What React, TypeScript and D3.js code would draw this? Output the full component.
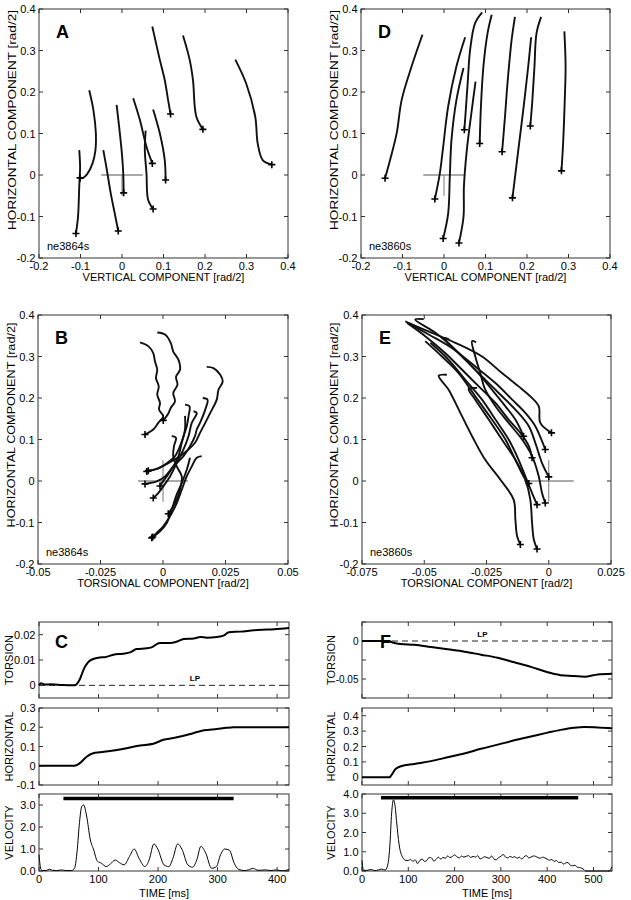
import React, { useEffect, useRef } from 'react';
import * as d3 from 'd3';

type Pt = [number, number];

const FONT = '"Liberation Sans", Arial, Helvetica, sans-serif';

// ---- tick values
const compTicks = [-0.2, -0.1, 0, 0.1, 0.2, 0.3, 0.4];
const torsTicksB = [-0.05, -0.025, 0, 0.025, 0.05];
const torsTicksE = [-0.075, -0.05, -0.025, 0, 0.025];
const timeTicksC = [0, 100, 200, 300, 400];
const timeTicksF = [0, 100, 200, 300, 400, 500];
const torsionTicksC = [0, 0.01, 0.02];
const torsionTicksF = [-0.075, -0.05, -0.025, 0, 0.025];
const torsionLabelsF = [-0.05, 0];
const horizTicksC = [-0.1, 0, 0.1, 0.2, 0.3];
const horizTicksF = [0, 0.1, 0.2, 0.3, 0.4];
const velTicksC = [0, 1, 2, 3];
const velTicksF = [0, 1, 2, 3, 4];

// ---- A: vertical vs horizontal, ne3864s (last point = "+")
const trajA: Pt[][] = [
  [[-0.103, 0.06], [-0.101, 0.02], [-0.103, -0.028], [-0.106, -0.101], [-0.111, -0.141]],
  [[-0.079, 0.204], [-0.069, 0.157], [-0.063, 0.101], [-0.064, 0.06], [-0.071, 0.028], [-0.084, 0.002], [-0.094, -0.007], [-0.101, -0.007]],
  [[-0.045, 0.06], [-0.037, 0.015], [-0.027, -0.045], [-0.018, -0.09], [-0.009, -0.135]],
  [[-0.013, 0.169], [-0.007, 0.117], [-0.001, 0.06], [0.003, 0.004], [0.004, -0.043]],
  [[0.027, 0.185], [0.043, 0.133], [0.059, 0.068], [0.073, 0.028]],
  [[0.057, 0.107], [0.055, 0.06], [0.059, 0.004], [0.063, -0.06], [0.075, -0.082]],
  [[0.075, 0.158], [0.091, 0.101], [0.103, 0.036], [0.105, -0.012]],
  [[0.073, 0.358], [0.091, 0.278], [0.103, 0.229], [0.111, 0.181], [0.117, 0.147]],
  [[0.147, 0.336], [0.163, 0.278], [0.171, 0.229], [0.179, 0.141], [0.195, 0.11]],
  [[0.273, 0.278], [0.299, 0.221], [0.321, 0.141], [0.327, 0.076], [0.339, 0.036], [0.361, 0.025]],
];

// ---- D: vertical vs horizontal, ne3860s
const trajD: Pt[][] = [
  [[-0.052, 0.338], [-0.078, 0.262], [-0.102, 0.181], [-0.114, 0.101], [-0.13, 0.036], [-0.142, -0.008]],
  [[0.051, 0.332], [0.03, 0.262], [0.01, 0.165], [-0.002, 0.068], [-0.01, 0.004], [-0.022, -0.058]],
  [[0.047, 0.258], [0.03, 0.181], [0.018, 0.084], [0.014, -0.004], [0.01, -0.093], [-0.002, -0.153]],
  [[0.076, 0.225], [0.067, 0.157], [0.055, 0.06], [0.048, -0.028], [0.047, -0.101], [0.036, -0.164]],
  [[0.092, 0.392], [0.075, 0.366], [0.063, 0.302], [0.057, 0.221], [0.052, 0.149], [0.049, 0.109]],
  [[0.115, 0.386], [0.105, 0.342], [0.095, 0.262], [0.089, 0.165], [0.086, 0.076]],
  [[0.171, 0.381], [0.163, 0.326], [0.153, 0.221], [0.147, 0.141], [0.14, 0.056]],
  [[0.21, 0.332], [0.203, 0.262], [0.191, 0.157], [0.179, 0.06], [0.165, -0.055]],
  [[0.234, 0.381], [0.223, 0.342], [0.218, 0.262], [0.213, 0.181], [0.208, 0.118]],
  [[0.29, 0.346], [0.293, 0.262], [0.291, 0.181], [0.287, 0.076], [0.283, 0.01]],
];

// ---- B: torsional vs horizontal, ne3864s
const trajB: Pt[][] = [
  [[-0.0092, 0.334], [-0.0059, 0.325], [-0.0039, 0.308], [-0.0032, 0.288], [-0.0023, 0.268], [-0.0028, 0.248], [-0.0017, 0.228], [-0.0023, 0.208], [-0.0012, 0.188], [-0.0016, 0.172], [0.0001, 0.156], [-0.0019, 0.14], [-0.0039, 0.124], [-0.0072, 0.112]],
  [[-0.0023, 0.358], [0.0008, 0.353], [0.0031, 0.333], [0.0041, 0.312], [0.0062, 0.292], [0.0068, 0.268], [0.0052, 0.251], [0.0058, 0.232], [0.0041, 0.212], [0.0048, 0.192], [0.0031, 0.176], [0.0021, 0.162], [0.0001, 0.146]],
  [[0.0175, 0.275], [0.0202, 0.272], [0.0229, 0.256], [0.0239, 0.24], [0.0222, 0.22], [0.0215, 0.196], [0.0189, 0.164], [0.0169, 0.14], [0.0148, 0.116], [0.0128, 0.092], [0.0102, 0.076], [0.0068, 0.06], [0.0021, 0.043], [-0.0025, 0.029], [-0.0065, 0.023]],
  [[0.0159, 0.2], [0.0178, 0.196], [0.0169, 0.172], [0.0148, 0.14], [0.0135, 0.124], [0.0128, 0.108], [0.0108, 0.084], [0.0082, 0.06], [0.0041, 0.035], [0.0008, 0.011], [-0.0025, -0.001], [-0.0072, -0.007]],
  [[0.0088, 0.184], [0.0106, 0.18], [0.0102, 0.156], [0.0095, 0.132], [0.0082, 0.108], [0.0068, 0.084], [0.0048, 0.06], [0.0015, 0.043], [-0.0025, 0.029], [-0.0059, 0.025]],
  [[0.0122, 0.168], [0.0135, 0.164], [0.0115, 0.14], [0.0102, 0.108], [0.0082, 0.076], [0.0055, 0.043], [0.0028, 0.011], [0.0001, -0.013], [-0.0019, -0.029], [-0.0039, -0.041]],
  [[0.0088, 0.157], [0.0088, 0.124], [0.0075, 0.092], [0.0062, 0.06], [0.0041, 0.035], [0.0015, 0.011], [-0.0005, -0.005], [-0.0012, -0.012]],
  [[0.0035, 0.108], [0.0052, 0.104], [0.0044, 0.084], [0.0041, 0.06], [0.0055, 0.035], [0.0075, 0.011], [0.0068, -0.021], [0.0048, -0.053], [0.0021, -0.079]],
  [[0.0155, 0.06], [0.0135, 0.056], [0.0115, 0.035], [0.0095, 0.011], [0.0075, -0.021], [0.0055, -0.053], [0.0028, -0.085], [0.0001, -0.109], [-0.0025, -0.125], [-0.0045, -0.137]],
  [[0.0108, 0.056], [0.0095, 0.027], [0.0075, -0.005], [0.0052, -0.037], [0.0035, -0.069], [0.0015, -0.101], [-0.0012, -0.121], [-0.0041, -0.135]],
];

// ---- E: torsional vs horizontal, ne3860s
const trajE: Pt[][] = [
  [[-0.0496, 0.337], [-0.0429, 0.3], [-0.0362, 0.26], [-0.0295, 0.204], [-0.0228, 0.148], [-0.0174, 0.1], [-0.0134, 0.051], [-0.0101, 0.011], [-0.008, -0.006]],
  [[-0.0292, 0.334], [-0.0308, 0.337], [-0.0295, 0.3], [-0.0275, 0.26], [-0.0255, 0.22], [-0.0214, 0.18], [-0.0161, 0.14], [-0.0107, 0.1], [-0.0067, 0.06], [-0.004, 0.011], [-0.0027, -0.029], [-0.0014, -0.053]],
  [[-0.0409, 0.256], [-0.0442, 0.254], [-0.0402, 0.22], [-0.0355, 0.164], [-0.0308, 0.108], [-0.0255, 0.051], [-0.0194, 0.003], [-0.0141, -0.045], [-0.0134, -0.093], [-0.0127, -0.133], [-0.0114, -0.153]],
  [[-0.0288, 0.224], [-0.0322, 0.222], [-0.0295, 0.196], [-0.0241, 0.148], [-0.0188, 0.1], [-0.0134, 0.051], [-0.0094, 0.003], [-0.0074, -0.045], [-0.0067, -0.101], [-0.006, -0.141], [-0.0047, -0.164]],
  [[-0.0502, 0.39], [-0.0536, 0.389], [-0.0455, 0.357], [-0.0375, 0.316], [-0.0295, 0.268], [-0.0228, 0.22], [-0.0174, 0.18], [-0.0134, 0.148], [-0.0101, 0.108]],
  [[-0.0576, 0.385], [-0.0482, 0.353], [-0.0388, 0.32], [-0.0295, 0.276], [-0.0214, 0.236], [-0.0147, 0.196], [-0.0094, 0.164], [-0.0054, 0.132], [-0.0027, 0.096], [-0.0014, 0.076]],
  [[-0.0569, 0.381], [-0.0496, 0.349], [-0.0415, 0.308], [-0.0348, 0.268], [-0.0281, 0.228], [-0.0214, 0.188], [-0.0161, 0.148], [-0.0114, 0.116], [-0.008, 0.084], [-0.0067, 0.056]],
  [[-0.0475, 0.333], [-0.0402, 0.292], [-0.0335, 0.244], [-0.0268, 0.196], [-0.0214, 0.148], [-0.0161, 0.1], [-0.0121, 0.051], [-0.0094, 0.011], [-0.0067, -0.029], [-0.0047, -0.057]],
  [[-0.0563, 0.381], [-0.0469, 0.357], [-0.0375, 0.333], [-0.0268, 0.3], [-0.0188, 0.26], [-0.0121, 0.228], [-0.0074, 0.204], [-0.004, 0.18], [-0.0034, 0.14], [0.0011, 0.116]],
  [[-0.0402, 0.342], [-0.0422, 0.345], [-0.0375, 0.316], [-0.0322, 0.284], [-0.0268, 0.252], [-0.0201, 0.212], [-0.0134, 0.172], [-0.008, 0.132], [-0.0054, 0.092], [-0.0027, 0.043], [0.0, 0.01]],
];

// ---- C: time courses, ne3864s  [time ms, value]
const torsionC: Pt[] = [[0, 0], [3, 0.0008], [10, 0.0003], [20, 0.0004], [40, 0.0001], [60, 0], [68, 0.0021], [76, 0.0068], [82, 0.009], [90, 0.0103], [102, 0.011], [110, 0.0111], [125, 0.0121], [141, 0.0125], [153, 0.013], [164, 0.0143], [181, 0.0146], [189, 0.015], [203, 0.0167], [220, 0.0167], [232, 0.0173], [243, 0.0183], [260, 0.0185], [271, 0.0191], [282, 0.0188], [299, 0.0191], [310, 0.0196], [319, 0.021], [338, 0.0212], [361, 0.0217], [384, 0.022], [406, 0.0223], [420, 0.0226]];
const horizC: Pt[] = [[0, 0], [60, 0], [68, 0.012], [80, 0.047], [91, 0.065], [102, 0.07], [125, 0.079], [147, 0.091], [170, 0.105], [192, 0.114], [209, 0.135], [226, 0.144], [243, 0.156], [260, 0.17], [277, 0.184], [299, 0.191], [315, 0.197], [327, 0.2], [420, 0.2]];
const velC: Pt[] = [[0, 0.74], [3, 0.1], [6, 0.02], [12, 0.02], [18, 0.08], [23, 0.03], [30, 0.02], [38, 0.05], [45, 0.02], [55, 0.02], [60, 0.15], [64, 0.9], [68, 2.2], [72, 2.95], [75, 3.0], [80, 2.5], [86, 1.45], [92, 0.95], [98, 0.45], [105, 0.35], [113, 0.2], [120, 0.32], [128, 0.5], [135, 0.38], [143, 0.28], [152, 0.66], [160, 1.0], [168, 0.58], [178, 0.2], [185, 0.5], [193, 1.23], [200, 0.97], [210, 0.28], [218, 0.2], [225, 0.58], [233, 1.23], [240, 1.0], [250, 0.28], [258, 0.17], [265, 0.5], [272, 1.12], [280, 0.82], [290, 0.12], [298, 0.2], [305, 0.74], [312, 1.0], [320, 0.94], [328, 0.35], [335, 0.08], [345, 0.02], [352, 0.05], [360, 0.12], [368, 0.03], [380, 0.05], [390, 0.02], [398, 0.05], [408, 0.01], [415, 0.03], [420, 0.07]];
const barC: Pt = [41, 327];
const barLevelC = 3.3;

// ---- F: time courses, ne3860s
const torsionF: Pt[] = [[0, 0], [52, 0], [59, 0], [66, -0.002], [73, -0.003], [84, -0.004], [113, -0.005], [149, -0.008], [185, -0.011], [221, -0.014], [257, -0.018], [293, -0.022], [329, -0.028], [365, -0.034], [401, -0.041], [429, -0.045], [458, -0.046], [480, -0.047], [509, -0.044], [540, -0.043]];
const horizF: Pt[] = [[0, 0], [60, 0], [62, 0.007], [73, 0.055], [84, 0.072], [113, 0.087], [149, 0.105], [185, 0.13], [221, 0.155], [257, 0.185], [293, 0.212], [329, 0.24], [365, 0.265], [401, 0.29], [429, 0.308], [458, 0.322], [480, 0.327], [509, 0.324], [540, 0.319]];
const velF: Pt[] = [[0, 0.55], [3, 0.05], [10, 0.03], [20, 0.08], [27, 0.02], [35, 0.05], [42, 0.1], [50, 0.05], [55, 0.25], [60, 1.25], [64, 3.0], [68, 3.7], [71, 3.45], [75, 2.5], [80, 1.4], [88, 0.7], [95, 0.55], [100, 0.55], [105, 0.6], [110, 0.5], [115, 0.58], [120, 0.38], [125, 0.55], [130, 0.62], [135, 0.5], [140, 0.55], [145, 0.7], [150, 0.68], [155, 0.52], [160, 0.6], [165, 0.72], [170, 0.62], [175, 0.7], [180, 0.66], [185, 0.78], [190, 0.7], [195, 0.75], [200, 0.84], [205, 0.74], [210, 0.68], [215, 0.78], [220, 0.72], [225, 0.76], [230, 0.8], [235, 0.7], [240, 0.76], [245, 0.72], [250, 0.8], [255, 0.62], [260, 0.68], [265, 0.74], [270, 0.7], [275, 0.66], [280, 0.78], [285, 0.62], [290, 0.58], [295, 0.7], [300, 0.76], [305, 0.86], [310, 0.72], [315, 0.68], [320, 0.76], [325, 0.7], [330, 0.75], [335, 0.66], [340, 0.72], [345, 0.62], [350, 0.74], [355, 0.8], [360, 0.68], [365, 0.72], [370, 0.78], [375, 0.76], [380, 0.7], [385, 0.66], [390, 0.72], [395, 0.68], [400, 0.62], [405, 0.56], [410, 0.6], [415, 0.5], [420, 0.54], [425, 0.44], [430, 0.46], [435, 0.36], [440, 0.42], [445, 0.44], [450, 0.3], [455, 0.27], [460, 0.3], [465, 0.2], [470, 0.18], [475, 0.14], [480, 0.06], [483, 0], [530, 0], [535, 0.02], [540, 0.22]];
const barF: Pt = [41, 467];
const barLevelF = 3.8;

type Sel = d3.Selection<SVGGElement, unknown, null, undefined>;
type Lin = d3.ScaleLinear<number, number>;

const num = (v: number) => String(+v.toFixed(3));

function frame(g: Sel, x: Lin, y: Lin, xt: number[], yt: number[],
  xLab: ((v: number) => string | null) | null, yLab: (v: number) => string | null, ySize = 11) {
  const [x0, x1] = x.range();
  const [y0, y1] = y.range();
  const tl = 4;
  g.append('rect').attr('x', x0).attr('y', y1).attr('width', x1 - x0).attr('height', y0 - y1)
    .attr('fill', 'none').attr('stroke', '#333').attr('stroke-width', 1);
  xt.forEach(v => {
    const px = x(v);
    g.append('line').attr('x1', px).attr('x2', px).attr('y1', y0).attr('y2', y0 - tl).attr('stroke', '#333');
    g.append('line').attr('x1', px).attr('x2', px).attr('y1', y1).attr('y2', y1 + tl).attr('stroke', '#333');
    const s = xLab ? xLab(v) : null;
    if (s !== null) {
      g.append('text').attr('x', px).attr('y', y0 + 12).attr('text-anchor', 'middle').text(s);
    }
  });
  yt.forEach(v => {
    const py = y(v);
    g.append('line').attr('x1', x0).attr('x2', x0 + tl).attr('y1', py).attr('y2', py).attr('stroke', '#333');
    g.append('line').attr('x1', x1).attr('x2', x1 - tl).attr('y1', py).attr('y2', py).attr('stroke', '#333');
    const s = yLab(v);
    if (s !== null) {
      g.append('text').attr('x', x0 - 3.5).attr('y', py + 4).attr('text-anchor', 'end')
        .attr('font-size', ySize).text(s);
    }
  });
}

function yTitle(g: Sel, x: number, y: number, text: string, len?: number) {
  const t = g.append('text').attr('transform', `translate(${x},${y}) rotate(-90)`).attr('text-anchor', 'middle').text(text);
  if (len) t.attr('textLength', len).attr('lengthAdjust', 'spacingAndGlyphs');
}

interface ScatterCfg {
  left: number; right: number; top: number; bottom: number;
  xDomain: [number, number]; xTicks: number[];
  trajs: Pt[][];
  crossH: [number, number]; crossV: [number, number];
  letter: string; tag: string; xTitle: string;
  yTitleX: number; yTitleY: number; yTitleLen: number;
}

function drawScatter(root: Sel, c: ScatterCfg) {
  const g = root.append('g');
  const x = d3.scaleLinear().domain(c.xDomain).range([c.left, c.right]);
  const y = d3.scaleLinear().domain([-0.2, 0.4]).range([c.bottom, c.top]);
  frame(g, x, y, c.xTicks, compTicks, num, num);

  // reference cross at the origin
  g.append('line').attr('x1', x(c.crossH[0])).attr('x2', x(c.crossH[1])).attr('y1', y(0)).attr('y2', y(0))
    .attr('stroke', '#555').attr('stroke-width', 1);
  g.append('line').attr('x1', x(0)).attr('x2', x(0)).attr('y1', y(c.crossV[0])).attr('y2', y(c.crossV[1]))
    .attr('stroke', '#777').attr('stroke-width', 1);

  const line = d3.line<Pt>().x(d => x(d[0])).y(d => y(d[1])).curve(d3.curveCatmullRom.alpha(0.5));
  g.selectAll('.traj').data(c.trajs).enter().append('path')
    .attr('class', 'traj').attr('fill', 'none').attr('stroke', '#111').attr('stroke-width', 1.9)
    .attr('stroke-linejoin', 'round').attr('d', d => line(d));

  // "+" at the end of each trajectory
  c.trajs.forEach(t => {
    const [ex, ey] = t[t.length - 1];
    const px = x(ex), py = y(ey);
    g.append('path').attr('d', `M${px - 3.5},${py}H${px + 3.5}M${px},${py - 3.5}V${py + 3.5}`)
      .attr('stroke', '#000').attr('stroke-width', 1.6);
  });

  g.append('text').attr('x', c.left + 17).attr('y', c.top + 29).attr('font-size', 18).attr('font-weight', 'bold').text(c.letter);
  g.append('text').attr('x', c.left + 8).attr('y', c.bottom - 8).text(c.tag);
  g.append('text').attr('x', (c.left + c.right) / 2).attr('y', c.bottom + 23).attr('text-anchor', 'middle').text(c.xTitle);
  yTitle(g, c.yTitleX, c.yTitleY, 'HORIZONTAL COMPONENT [rad/2]', c.yTitleLen);
}

interface TimeCfg {
  left: number; right: number; tMax: number; tTicks: number[];
  torsion: Pt[]; tDomain: [number, number]; tTicksY: number[]; tLab: (v: number) => string | null; tSize: number;
  horiz: Pt[]; hDomain: [number, number]; hTicks: number[];
  vel: Pt[]; vDomain: [number, number]; vTicks: number[];
  bar: Pt; barLevel: number; lpAt: number;
  letter: string; letterX: number; letterY: number; yTitleX: number;
}

const rows = [[622, 698], [708, 785], [794, 871]];

function drawTime(root: Sel, c: TimeCfg) {
  const g = root.append('g');
  const x = d3.scaleLinear().domain([0, c.tMax]).range([c.left, c.right]);
  const yT = d3.scaleLinear().domain(c.tDomain).range([rows[0][1], rows[0][0]]);
  const yH = d3.scaleLinear().domain(c.hDomain).range([rows[1][1], rows[1][0]]);
  const yV = d3.scaleLinear().domain(c.vDomain).range([rows[2][1], rows[2][0]]);

  frame(g, x, yT, c.tTicks, c.tTicksY, null, c.tLab, c.tSize);
  frame(g, x, yH, c.tTicks, c.hTicks, null, num);
  frame(g, x, yV, c.tTicks, c.vTicks, v => String(v), v => v.toFixed(1));

  // listing's plane reference
  g.append('line').attr('x1', c.left).attr('x2', c.right).attr('y1', yT(0)).attr('y2', yT(0))
    .attr('stroke', '#222').attr('stroke-width', 1).attr('stroke-dasharray', '6,4');
  g.append('text').attr('x', x(c.lpAt)).attr('y', yT(0) - 4).attr('font-size', 8).attr('font-weight', 'bold')
    .attr('text-anchor', 'middle').text('LP');

  const mk = (ys: Lin) => d3.line<Pt>().x(d => x(d[0])).y(d => ys(d[1])).curve(d3.curveMonotoneX);
  g.append('path').attr('d', mk(yT)(c.torsion)).attr('fill', 'none').attr('stroke', '#000').attr('stroke-width', 2);
  g.append('path').attr('d', mk(yH)(c.horiz)).attr('fill', 'none').attr('stroke', '#000').attr('stroke-width', 2);
  g.append('path').attr('d', mk(yV)(c.vel)).attr('fill', 'none').attr('stroke', '#000').attr('stroke-width', 1);
  g.append('line').attr('x1', x(c.bar[0])).attr('x2', x(c.bar[1])).attr('y1', yV(c.barLevel)).attr('y2', yV(c.barLevel))
    .attr('stroke', '#000').attr('stroke-width', 3.5);

  g.append('text').attr('x', c.letterX).attr('y', c.letterY).attr('font-size', 18).attr('font-weight', 'bold').text(c.letter);
  yTitle(g, c.yTitleX, (rows[0][0] + rows[0][1]) / 2, 'TORSION');
  yTitle(g, c.yTitleX, (rows[1][0] + rows[1][1]) / 2, 'HORIZONTAL');
  yTitle(g, c.yTitleX, (rows[2][0] + rows[2][1]) / 2, 'VELOCITY');
  g.append('text').attr('x', (c.left + c.right) / 2).attr('y', 897).attr('text-anchor', 'middle').text('TIME [ms]');
}

export default function App() {
  const ref = useRef<SVGSVGElement>(null);
  useEffect(() => {
    const svg = d3.select(ref.current as SVGSVGElement);
    svg.selectAll('*').remove();
    const root = svg.append('g').attr('font-family', FONT).attr('font-size', 11).attr('fill', '#000') as unknown as Sel;

    drawScatter(root, {
      left: 39, right: 288, top: 9, bottom: 258, xDomain: [-0.2, 0.4], xTicks: compTicks,
      trajs: trajA, crossH: [-0.05, 0.05], crossV: [0, -0.05], letter: 'A', tag: 'ne3864s',
      xTitle: 'VERTICAL COMPONENT [rad/2]', yTitleX: 16, yTitleY: 120, yTitleLen: 220,
    });
    drawScatter(root, {
      left: 361, right: 610, top: 9, bottom: 258, xDomain: [-0.2, 0.4], xTicks: compTicks,
      trajs: trajD, crossH: [-0.05, 0.05], crossV: [0, -0.05], letter: 'D', tag: 'ne3860s',
      xTitle: 'VERTICAL COMPONENT [rad/2]', yTitleX: 338, yTitleY: 120, yTitleLen: 220,
    });
    drawScatter(root, {
      left: 38, right: 288, top: 315, bottom: 564, xDomain: [-0.05, 0.05], xTicks: torsTicksB,
      trajs: trajB, crossH: [-0.01, 0.01], crossV: [0.05, -0.05], letter: 'B', tag: 'ne3864s',
      xTitle: 'TORSIONAL COMPONENT [rad/2]', yTitleX: 15, yTitleY: 425, yTitleLen: 205,
    });
    drawScatter(root, {
      left: 362, right: 611, top: 315, bottom: 564, xDomain: [-0.075, 0.025], xTicks: torsTicksE,
      trajs: trajE, crossH: [-0.01, 0.01], crossV: [0.05, -0.05], letter: 'E', tag: 'ne3860s',
      xTitle: 'TORSIONAL COMPONENT [rad/2]', yTitleX: 338, yTitleY: 425, yTitleLen: 205,
    });

    drawTime(root, {
      left: 39, right: 289, tMax: 420, tTicks: timeTicksC,
      torsion: torsionC, tDomain: [-0.005, 0.025], tTicksY: torsionTicksC, tLab: num, tSize: 11,
      horiz: horizC, hDomain: [-0.1, 0.3], hTicks: horizTicksC,
      vel: velC, vDomain: [0, 3.5], vTicks: velTicksC,
      bar: barC, barLevel: barLevelC, lpAt: 262,
      letter: 'C', letterX: 55, letterY: 648, yTitleX: 13,
    });
    drawTime(root, {
      left: 362, right: 612, tMax: 540, tTicks: timeTicksF,
      torsion: torsionF, tDomain: [-0.075, 0.025], tTicksY: torsionTicksF,
      tLab: v => (torsionLabelsF.includes(v) ? num(v) : null), tSize: 10,
      horiz: horizF, hDomain: [-0.05, 0.45], hTicks: horizTicksF,
      vel: velF, vDomain: [0, 4], vTicks: velTicksF,
      bar: barF, barLevel: barLevelF, lpAt: 260,
      letter: 'F', letterX: 380, letterY: 648, yTitleX: 335,
    });
  }, []);

  return (
    <svg ref={ref} width={631} height={900}
      style={{ position: 'absolute', left: 0, top: 0, background: '#fff' }} />
  );
}
